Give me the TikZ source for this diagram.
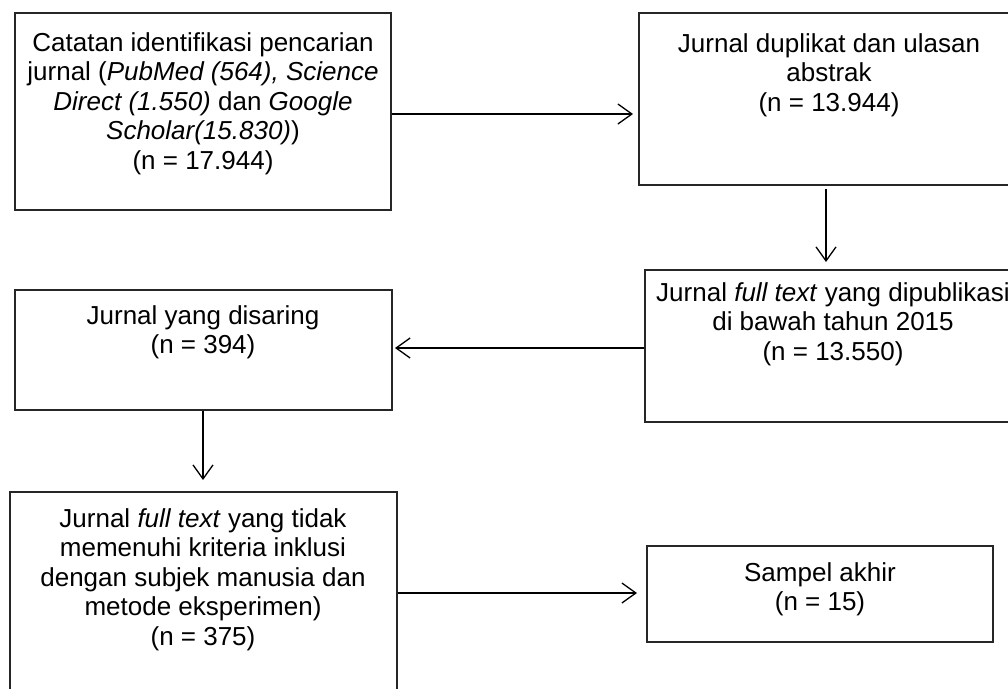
\documentclass[tikz,border=0pt]{standalone}
\usepackage{fontspec}
\setmainfont{Liberation Sans}
\usetikzlibrary{arrows.meta}
\begin{document}
\begin{tikzpicture}[x=1pt,y=-1pt,
  box/.style={draw=black!85, line width=1.3pt, rectangle, inner sep=0pt},
  txt/.style={anchor=north, align=center, inner sep=0pt, font=\fontsize{26}{29.5}\selectfont},
  arr/.style={line width=1.3pt, -{Straight Barb[length=14pt,width=20pt,line width=1.3pt]}}]
\useasboundingbox (0,0) rectangle (1008,688);
% boxes
\node[box, minimum width=376pt, minimum height=197pt] (b1) at (203,111.5) {};
\node[box, minimum width=380pt, minimum height=172pt] (b2) at (829,99) {};
\node[box, minimum width=376pt, minimum height=152pt] (b3) at (833,346) {};
\node[box, minimum width=377pt, minimum height=120pt] (b4) at (203.5,350) {};
\node[box, minimum width=387pt, minimum height=210pt] (b5) at (203.5,597) {};
\node[box, minimum width=346pt, minimum height=96pt] (b6) at (820,594) {};
% texts
\node[txt] (t1) at (203,32) {Catatan identifikasi pencarian\\jurnal (\textit{PubMed (564), Science}\\\textit{Direct (1.550)} dan \textit{Google}\\\textit{Scholar(15.830)})\\(n = 17.944)};
\node[txt] (t2) at (829,33) {Jurnal duplikat dan ulasan\\abstrak\\(n = 13.944)};
\node[txt] (t3) at (833,282) {Jurnal \textit{full text} yang dipublikasi\\di bawah tahun 2015\\(n = 13.550)};
\node[txt] (t4) at (203,305) {Jurnal yang disaring\\(n = 394)};
\node[txt] (t5) at (203,508) {Jurnal \textit{full text} yang tidak\\memenuhi kriteria inklusi\\dengan subjek manusia dan\\metode eksperimen)\\(n = 375)};
\node[txt] (t6) at (820,562) {Sampel akhir\\(n = 15)};
% connector ends
\coordinate (c1) at (633,114);
\coordinate (s2) at (826,189);
\coordinate (c2) at (826,262);
\coordinate (c3) at (395,348);
\coordinate (c4) at (203,480);
\coordinate (c5) at (637,593);
% connectors
\draw[arr] (b1.east |- c1) -- (c1);
\draw[arr] (s2) -- (c2);
\draw[arr] (b3.west |- c3) -- (c3);
\draw[arr] (b4.south -| c4) -- (c4);
\draw[arr] (b5.east |- c5) -- (c5);
\end{tikzpicture}
\end{document}
